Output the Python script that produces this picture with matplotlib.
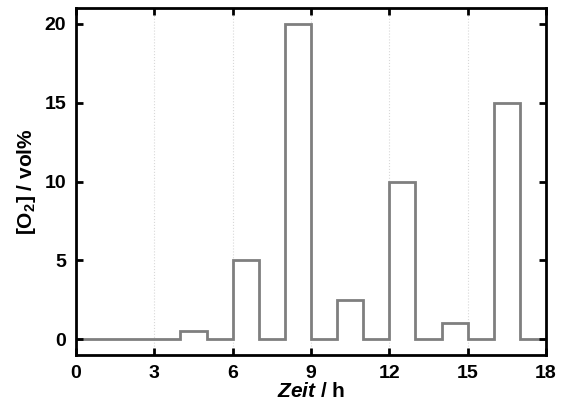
import matplotlib.pyplot as plt
import numpy as np

# Sauerstoffgehalt (Stufenprofil)
edges = [0, 4, 5, 6, 7, 8, 9, 10, 11, 12, 13, 14, 15, 16, 17, 18]
o2 = [0, 0.5, 0, 5, 0, 20, 0, 2.5, 0, 10, 0, 1, 0, 15, 0]
xticks = [0, 3, 6, 9, 12, 15, 18]
yticks = [0, 5, 10, 15, 20]

plt.rcParams['font.family'] = ['Liberation Sans', 'DejaVu Sans']
plt.rcParams['font.weight'] = 'bold'
plt.rcParams['mathtext.fontset'] = 'custom'
plt.rcParams['mathtext.rm'] = 'Liberation Sans:bold'
plt.rcParams['mathtext.it'] = 'Liberation Sans:italic:bold'
plt.rcParams['mathtext.bf'] = 'Liberation Sans:bold'

fig = plt.figure(figsize=(5.65, 4.09), dpi=100)
ax = fig.add_axes([0.1345, 0.132, 0.832, 0.848])

ax.stairs(o2, edges, color='#7f7f7f', linewidth=2, baseline=None)

ax.set_xlim(0, 18)
ax.set_ylim(-1, 21)
ax.set_xticks(xticks)
ax.set_yticks(yticks)
for x in xticks[1:-1]:
    ax.axvline(x, color='#d8d8d8', linestyle=':', linewidth=0.8, zorder=0)

ax.tick_params(direction='in', top=True, right=True, length=5, width=2,
               labelsize=14, pad=7)
for s in ax.spines.values():
    s.set_linewidth(2)

ax.set_xlabel(r'$Zeit$ / h', fontsize=15, fontweight='bold', labelpad=0)
ax.set_ylabel(r'[O$_{\mathrm{2}}$] / vol%', fontsize=15, fontweight='bold', labelpad=5)

plt.savefig('out.png', dpi=100)
